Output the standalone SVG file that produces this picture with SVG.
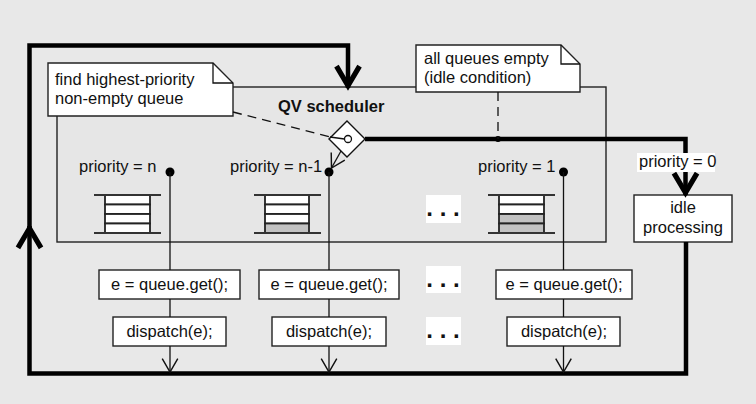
<svg xmlns="http://www.w3.org/2000/svg" width="756" height="404" viewBox="0 0 756 404">
<defs>
<style>
text{font-family:"Liberation Sans",Arial,sans-serif;font-size:16.5px;fill:#111}
.b{font-weight:bold}
.mid{text-anchor:middle}
.box{fill:#fff;stroke:#222;stroke-width:1.4}
.thin{fill:none;stroke:#111;stroke-width:1.3}
.thick{fill:none;stroke:#000;stroke-width:4.5}
.dash{fill:none;stroke:#111;stroke-width:1.3;stroke-dasharray:9,6}
.cell{fill:#fff;stroke:#222;stroke-width:1.8}
.full{fill:#c2c2c2;stroke:#222;stroke-width:1.8}
.qline{stroke:#333;stroke-width:2}
.dots{font-size:24px;font-weight:bold;text-anchor:middle}
.wb{fill:#fff}
</style>
<marker id="thinArrow" markerUnits="userSpaceOnUse" markerWidth="20" markerHeight="20" refX="0" refY="0" viewBox="-14 -9 16 18" orient="auto" overflow="visible">
<path d="M-12,-7 L0,0 L-12,7" fill="none" stroke="#111" stroke-width="1.3"/>
</marker>
<marker id="thickArrow" markerUnits="userSpaceOnUse" markerWidth="30" markerHeight="30" refX="0" refY="0" viewBox="-22 -13 25 26" orient="auto" overflow="visible">
<path d="M-19,-10 L-2,0 L-19,10" fill="none" stroke="#000" stroke-width="4.5"/>
</marker>
</defs>
<rect x="0" y="0" width="756" height="404" fill="#e8e8e8"/>

<g id="scheduler">
<rect x="57" y="87" width="549" height="155" fill="#e6e6e6" stroke="#222" stroke-width="1.4"/>
<text x="278" y="112" class="b">QV scheduler</text>
</g>

<g id="queue-n">
<text x="79" y="172">priority = n</text>
<rect class="cell" x="105" y="195" width="45" height="9.5"/>
<rect class="cell" x="105" y="204.5" width="45" height="9.5"/>
<rect class="cell" x="105" y="214" width="45" height="9.5"/>
<rect class="cell" x="105" y="223.5" width="45" height="9.5"/>
<line class="qline" x1="94" y1="195" x2="161" y2="195"/>
<line class="qline" x1="94" y1="233" x2="161" y2="233"/>
<circle cx="170" cy="172" r="4.5" fill="#000"/>
</g>

<g id="queue-n-1">
<text x="230" y="172">priority = n-1</text>
<rect class="cell" x="265" y="195" width="44" height="9.5"/>
<rect class="cell" x="265" y="204.5" width="44" height="9.5"/>
<rect class="cell" x="265" y="214" width="44" height="9.5"/>
<rect class="full" x="265" y="223.5" width="44" height="9.5"/>
<line class="qline" x1="254" y1="195" x2="321" y2="195"/>
<line class="qline" x1="254" y1="233" x2="321" y2="233"/>
<circle cx="329" cy="172" r="4.5" fill="#000"/>
</g>

<g id="queue-dots">
<rect class="wb" x="426" y="195" width="35" height="28"/>
<text x="443" y="216" class="dots">. . .</text>
</g>

<g id="queue-1">
<text x="478" y="172">priority = 1</text>
<rect class="cell" x="499" y="195" width="45" height="9.5"/>
<rect class="cell" x="499" y="204.5" width="45" height="9.5"/>
<rect class="full" x="499" y="214" width="45" height="9.5"/>
<rect class="full" x="499" y="223.5" width="45" height="9.5"/>
<line class="qline" x1="488" y1="195" x2="555" y2="195"/>
<line class="qline" x1="488" y1="233" x2="555" y2="233"/>
<circle cx="563.5" cy="172" r="4.5" fill="#000"/>
</g>

<g id="note-find">
<path class="box" d="M48,63 H213 L233,83 V116 H48 Z"/>
<path class="thin" d="M213,63 V83 H233"/>
<text x="55" y="85">find highest-priority</text>
<text x="55" y="104">non-empty queue</text>
</g>

<g id="note-idle">
<path class="box" d="M416,45 H561 L580,64 V92 H416 Z"/>
<path class="thin" d="M561,45 V64 H580"/>
<text x="424" y="64">all queues empty</text>
<text x="424" y="83">(idle condition)</text>
</g>

<g id="idle-processing">
<rect class="box" x="634" y="195" width="98" height="47"/>
<text x="683" y="213" class="mid">idle</text>
<text x="683" y="233" class="mid">processing</text>
</g>

<g id="get-1"><rect class="box" x="99" y="270" width="141" height="29"/><text x="169.5" y="290" class="mid">e = queue.get();</text></g>
<g id="get-2"><rect class="box" x="259" y="270" width="140" height="29"/><text x="329" y="290" class="mid">e = queue.get();</text></g>
<g id="get-dots"><rect class="wb" x="426" y="266" width="35" height="27"/><text x="443" y="287" class="dots">. . .</text></g>
<g id="get-3"><rect class="box" x="496" y="270" width="136" height="29"/><text x="564" y="290" class="mid">e = queue.get();</text></g>

<g id="dispatch-1"><rect class="box" x="113" y="317" width="113" height="29"/><text x="169.5" y="337" class="mid">dispatch(e);</text></g>
<g id="dispatch-2"><rect class="box" x="272" y="317" width="114" height="29"/><text x="329" y="337" class="mid">dispatch(e);</text></g>
<g id="dispatch-dots"><rect class="wb" x="426" y="317" width="35" height="28"/><text x="443" y="338" class="dots">. . .</text></g>
<g id="dispatch-3"><rect class="box" x="507" y="317" width="113" height="29"/><text x="564" y="337" class="mid">dispatch(e);</text></g>

<g id="connectors">
<path class="thick" d="M686,242 V373.5 H29.5 V226" marker-end="url(#thickArrow)"/>
<path class="thick" d="M29.5,228 V45.5 H348 V88" marker-end="url(#thickArrow)"/>
<path class="thick" d="M365,139 H685.5 V195" marker-end="url(#thickArrow)"/>
<rect class="wb" x="637" y="153" width="78" height="19"/>
<text x="639" y="167">priority = 0</text>
<circle cx="498" cy="139" r="3" fill="#000"/>
<line class="dash" x1="498" y1="92" x2="498" y2="139"/>
<line class="dash" x1="233" y1="112" x2="330" y2="137"/>
<polygon points="347,121 365,139 347,157 329,139" fill="#fff" stroke="#111" stroke-width="1.4"/>
<line class="thin" x1="330" y1="137" x2="344.5" y2="139"/>
<circle cx="348" cy="139" r="3.5" fill="#fff" stroke="#111" stroke-width="1.3"/>
<line class="thin" x1="341" y1="151" x2="331.5" y2="168" marker-end="url(#thinArrow)"/>
<line class="thin" x1="170" y1="172" x2="170" y2="270"/>
<line class="thin" x1="329" y1="172" x2="329" y2="270"/>
<line class="thin" x1="563.5" y1="172" x2="563.5" y2="270"/>
<line class="thin" x1="170" y1="299" x2="170" y2="317"/>
<line class="thin" x1="329" y1="299" x2="329" y2="317"/>
<line class="thin" x1="563.5" y1="299" x2="563.5" y2="317"/>
<line class="thin" x1="170" y1="346" x2="170" y2="372" marker-end="url(#thinArrow)"/>
<line class="thin" x1="329" y1="346" x2="329" y2="372" marker-end="url(#thinArrow)"/>
<line class="thin" x1="563.5" y1="346" x2="563.5" y2="372" marker-end="url(#thinArrow)"/>
</g>
</svg>
